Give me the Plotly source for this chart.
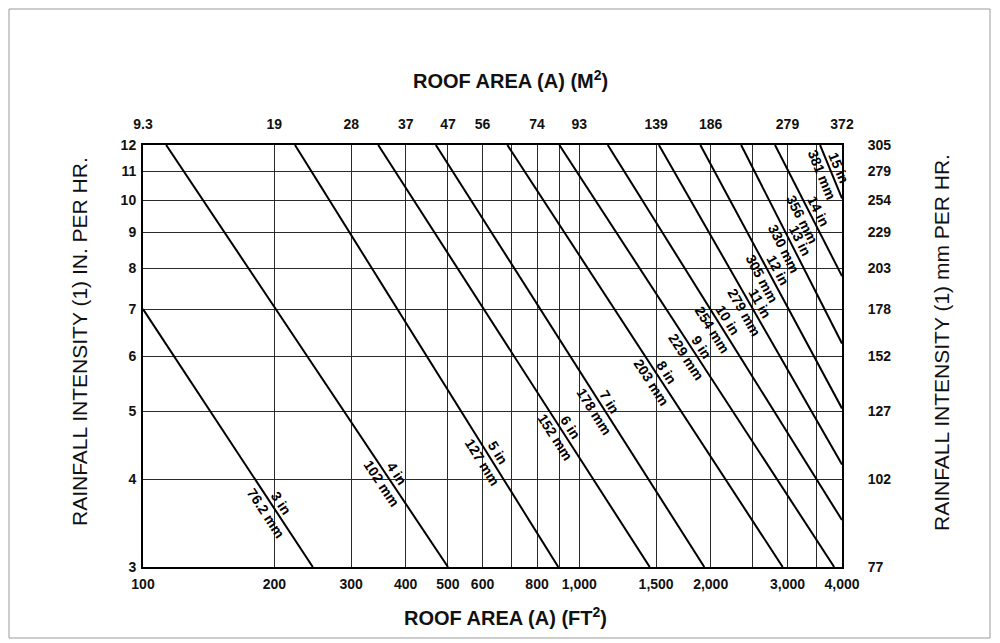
import math
import plotly.graph_objects as go

# ---------------- data ----------------
drain_in = [3, 4, 5, 6, 7, 8, 9, 10, 11, 12, 13, 14, 15]
drain_mm = ["76.2", "102", "127", "152", "178", "203", "229", "254", "279", "305", "330", "356", "381"]

# line end points: (roof area ft2, rainfall in/hr)
start_area = [100, 113, 223, 346, 469, 684, 900, 1162, 1522, 1894, 2349, 2809, 3563]
start_int = [7, 12, 12, 12, 12, 12, 12, 12, 12, 12, 12, 12, 12]
end_area = [245, 500, 895, 1450, 1934, 2925, 3838, 4000, 4000, 4000, 4000, 4000, 4000]
end_int = [3, 3, 3, 3, 3, 3, 3, 3.5, 4.2, 5.05, 6.25, 7.8, 10.07]

ft2_ticks = [100, 200, 300, 400, 500, 600, 800, 1000, 1500, 2000, 3000, 4000]
ft2_text = ["100", "200", "300", "400", "500", "600", "800", "1,000", "1,500", "2,000", "3,000", "4,000"]
ft2_extra_grid = [700, 900, 2500, 3500]
m2_text = ["9.3", "19", "28", "37", "47", "56", "74", "93", "139", "186", "279", "372"]
in_ticks = [3, 4, 5, 6, 7, 8, 9, 10, 11, 12]
in_text = ["3", "4", "5", "6", "7", "8", "9", "10", "11", "12"]
mm_text = ["77", "102", "127", "152", "178", "203", "229", "254", "279", "305"]

# ---------------- layout / style ----------------
OFF = 8  # page body margin of the browser
W, H = 1000 - OFF, 643 - OFF
# plot area on screen: left 143, right 842, top 145, bottom 567
ML, MT = 143 - OFF, 145 - OFF
MR = W - (842 - OFF)
MB = H - (567 - OFF)
plot_w = W - ML - MR
plot_h = H - MT - MB
xr = [math.log10(100), math.log10(4000)]
yr = [math.log10(3), math.log10(12)]
kx = plot_w / (xr[1] - xr[0])
ky = plot_h / (yr[1] - yr[0])

label_frac = [0.77, 0.79, 0.74, 0.68, 0.62, 0.55, 0.49, 0.48, 0.51, 0.49, 0.50, 0.53, 0.48]

FONT = "Liberation Sans, Arial, sans-serif"
INK = "#111111"

fig = go.Figure()

for i in range(len(drain_in)):
    fig.add_trace(go.Scatter(
        x=[start_area[i], end_area[i]], y=[start_int[i], end_int[i]],
        mode="lines", line=dict(color="#000000", width=2),
        hoverinfo="skip", showlegend=False))

# invisible trace so the secondary axes are drawn
fig.add_trace(go.Scatter(x=[100, 4000], y=[3, 12], xaxis="x2", yaxis="y2",
                         mode="markers", marker=dict(opacity=0),
                         hoverinfo="skip", showlegend=False))

annotations = []
for i in range(len(drain_in)):
    lx0, lx1 = math.log10(start_area[i]), math.log10(end_area[i])
    ly0, ly1 = math.log10(start_int[i]), math.log10(end_int[i])
    s = label_frac[i]
    lx = lx0 + s * (lx1 - lx0)
    ly = ly0 + s * (ly1 - ly0)
    dx = (lx1 - lx0) * kx
    dy = (ly1 - ly0) * ky
    ang = math.degrees(math.atan2(-dy, dx))
    annotations.append(dict(
        x=lx, y=ly, xref="x", yref="y",
        text=f"{drain_in[i]} in<br>{drain_mm[i]} mm",
        showarrow=False, textangle=ang,
        font=dict(family=FONT, size=14, color="#000000", weight="bold"),
        align="center", xanchor="center", yanchor="middle"))


def px_x(px):
    return (px - OFF - ML) / plot_w


def px_y(py):
    return (H - MB - (py - OFF)) / plot_h


title_common = dict(xref="paper", yref="paper", showarrow=False,
                    xanchor="center", yanchor="middle")
annotations += [
    dict(text="ROOF AREA (A) (M<sup>2</sup>)", x=px_x(510), y=px_y(80),
         font=dict(family=FONT, size=20, color=INK, weight="bold"), **title_common),
    dict(text="ROOF AREA (A) (FT<sup>2</sup>)", x=px_x(506), y=px_y(616),
         font=dict(family=FONT, size=20, color=INK, weight="bold"), **title_common),
    dict(text="RAINFALL INTENSITY (1) IN. PER HR.", x=px_x(79), y=px_y(342), textangle=-90,
         font=dict(family=FONT, size=21, color=INK), **title_common),
    dict(text="RAINFALL INTENSITY (1) mm PER HR.", x=px_x(941), y=px_y(343), textangle=-90,
         font=dict(family=FONT, size=21, color=INK), **title_common),
]

tickfont = dict(family=FONT, size=14, color=INK, weight="bold")
clear = "rgba(0,0,0,0)"
GRID = "#2a2a2a"

fig.update_layout(
    width=W, height=H, autosize=False,
    margin=dict(l=ML, r=MR, t=MT, b=MB, pad=0),
    paper_bgcolor="white", plot_bgcolor="white",
    showlegend=False,
    annotations=annotations,
    xaxis=dict(type="log", range=xr, tickmode="array", tickvals=ft2_ticks, ticktext=ft2_text,
               showgrid=True, gridcolor=GRID, gridwidth=1.3, zeroline=False,
               showline=True, linecolor="#000000", linewidth=2, mirror=True,
               ticks="outside", ticklen=3, tickcolor=clear, tickfont=tickfont,
               minor=dict(tickmode="array", tickvals=ft2_extra_grid, showgrid=True,
                          gridcolor=GRID, gridwidth=1.3, ticks="")),
    xaxis2=dict(type="log", range=xr, overlaying="x", side="top", tickmode="array",
                tickvals=ft2_ticks, ticktext=m2_text, showgrid=False, zeroline=False,
                ticks="outside", ticklen=9, tickcolor=clear, tickfont=tickfont),
    yaxis=dict(type="log", range=yr, tickmode="array", tickvals=in_ticks, ticktext=in_text,
               showgrid=True, gridcolor=GRID, gridwidth=1.3, zeroline=False,
               showline=True, linecolor="#000000", linewidth=2, mirror=True,
               ticks="outside", ticklen=2, tickcolor=clear, tickfont=tickfont),
    yaxis2=dict(type="log", range=yr, overlaying="y", side="right", tickmode="array",
                tickvals=in_ticks, ticktext=mm_text, showgrid=False, zeroline=False,
                ticks="outside", ticklen=22, tickcolor=clear, tickfont=tickfont),
    shapes=[dict(type="rect", xref="paper", yref="paper",
                 x0=px_x(9), x1=px_x(990), y0=px_y(638), y1=px_y(9),
                 line=dict(color="#9a9a9a", width=1), layer="below")],
)

fig.write_html("out.html")
